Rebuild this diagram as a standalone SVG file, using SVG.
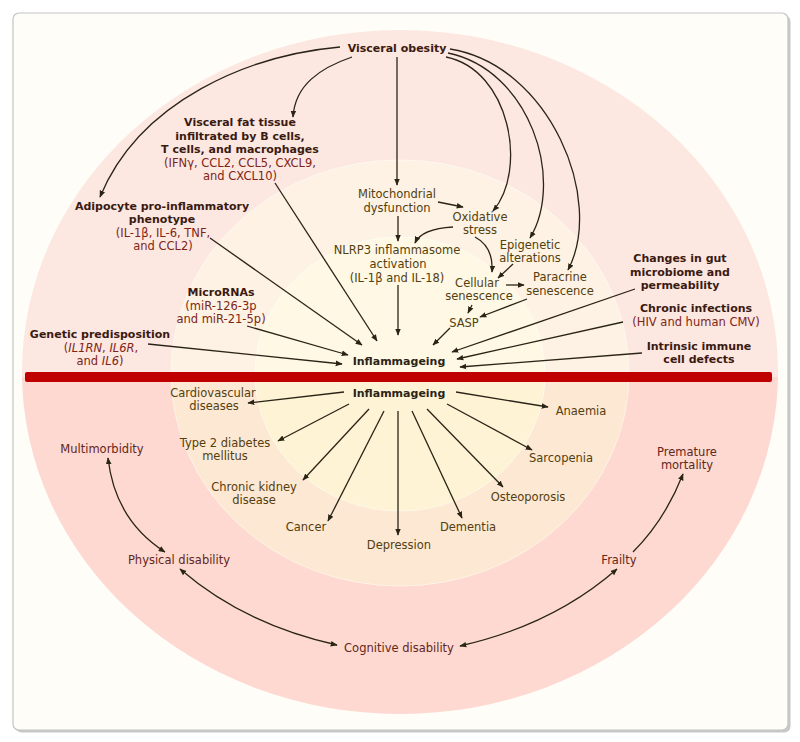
<svg xmlns="http://www.w3.org/2000/svg" width="800" height="742" viewBox="0 0 800 742">
<defs>
<clipPath id="top"><rect x="0" y="0" width="800" height="377"/></clipPath>
<clipPath id="bot"><rect x="0" y="377" width="800" height="365"/></clipPath>
<marker id="ah" viewBox="0 0 10 10" refX="9" refY="5" markerWidth="7" markerHeight="7" markerUnits="userSpaceOnUse" orient="auto-start-reverse"><path d="M0,1 L10,5 L0,9 z" fill="#2a2416"/></marker>
<style>
text{font-family:"DejaVu Sans","Liberation Sans",sans-serif;font-size:11.5px;text-anchor:middle}
.b{font-weight:bold;font-size:11px;fill:#3a1a10}
.p{fill:#7e2616}
.o{fill:#54400e}
.r{fill:#64261a}
.k{font-weight:bold;font-size:11px;fill:#2a2416}
.ln{fill:none;stroke:#2a2416;stroke-width:1.3;marker-end:url(#ah)}
.bi{marker-start:url(#ah)}
</style>
</defs>
<rect width="800" height="742" fill="#ffffff"/>
<rect x="15.5" y="15.5" width="775" height="717" rx="6" fill="#c8c8c8"/>
<rect x="13" y="13" width="775" height="717" rx="6" fill="#fffdf8" stroke="#c4c4c4" stroke-width="1.2"/>
<g id="rings">
<g clip-path="url(#top)">
<ellipse cx="400" cy="372" rx="378" ry="342" fill="#fce7e1"/>
<ellipse cx="400" cy="373" rx="229" ry="213" fill="#fdf2e3" stroke="#fff8f0" stroke-width="1"/>
<ellipse cx="400" cy="374" rx="145" ry="137" fill="#fef8e5" stroke="#fffcf2" stroke-width="1"/>
</g>
<g clip-path="url(#bot)">
<ellipse cx="400" cy="372" rx="378" ry="342" fill="#fdd9d1"/>
<ellipse cx="400" cy="373" rx="229" ry="213" fill="#fde8d3" stroke="#fff3e6" stroke-width="1"/>
<ellipse cx="400" cy="374" rx="145" ry="137" fill="#fef3d5" stroke="#fff9ea" stroke-width="1"/>
</g>
</g>
<rect id="bar" x="25" y="372" width="747" height="10" rx="2" fill="#c00000"/>
<g id="connectors">
<path class="ln" d="M340,47 C250,55 140,100 100,197"/>
<path class="ln" d="M352,57 C320,68 295,85 293,117"/>
<path class="ln" d="M397,57 L397,185"/>
<path class="ln" d="M446,57 C510,70 528,170 493,211"/>
<path class="ln" d="M448,53 C530,70 565,180 530,238"/>
<path class="ln" d="M450,49 C550,65 605,200 568,270"/>
<path class="ln" d="M438,202 L463,207"/>
<path class="ln" d="M398,216 L398,241"/>
<path class="ln" d="M453,227 C435,228 420,232 415,243"/>
<path class="ln" d="M475,237 C490,245 493,258 492,272"/>
<path class="ln" d="M513,264 L498,278"/>
<path class="ln" d="M506,285 L524,285"/>
<path class="ln" d="M527,299 L480,317"/>
<path class="ln" d="M472,305 L468,313"/>
<path class="ln" d="M450,328 L433,345"/>
<path class="ln" d="M398,285 L398,335"/>
<path class="ln" d="M275,183 L377,341"/>
<path class="ln" d="M210,238 L362,345"/>
<path class="ln" d="M247,326 L348,355"/>
<path class="ln" d="M148,344 L342,364"/>
<path class="ln" d="M635,289 L452,352"/>
<path class="ln" d="M623,322 L457,359"/>
<path class="ln" d="M642,353 L460,367"/>
<path class="ln" d="M344,392 L248,403"/>
<path class="ln" d="M349,404 L278,441"/>
<path class="ln" d="M369,409 L303,480"/>
<path class="ln" d="M384,411 L328,521"/>
<path class="ln" d="M398,411 L398,535"/>
<path class="ln" d="M412,411 L462,518"/>
<path class="ln" d="M427,409 L503,487"/>
<path class="ln" d="M447,404 L532,450"/>
<path class="ln" d="M456,392 L548,407"/>
<path class="ln bi" d="M108,458 Q115,520 165,552"/>
<path class="ln bi" d="M180,569 Q245,625 337,645"/>
<path class="ln bi" d="M460,646 Q553,625 617,569"/>
<path class="ln" d="M633,552 Q665,520 683,474"/>
</g>
<g id="n-visceral-obesity"><text class="b" x="397" y="52">Visceral obesity</text></g>
<g id="n-fat-tissue">
<text class="b" x="240" y="126">Visceral fat tissue</text>
<text class="b" x="240" y="140">infiltrated by B cells,</text>
<text class="b" x="240" y="153">T cells, and macrophages</text>
<text class="p" x="240" y="167">(IFNγ, CCL2, CCL5, CXCL9,</text>
<text class="p" x="240" y="180">and CXCL10)</text>
</g>
<g id="n-adipocyte">
<text class="b" x="162" y="210">Adipocyte pro-inflammatory</text>
<text class="b" x="162" y="223">phenotype</text>
<text class="p" x="163" y="237">(IL-1β, IL-6, TNF,</text>
<text class="p" x="163" y="250">and CCL2)</text>
</g>
<g id="n-micrornas">
<text class="b" x="221" y="296">MicroRNAs</text>
<text class="p" x="221" y="310">(miR-126-3p</text>
<text class="p" x="221" y="323">and miR-21-5p)</text>
</g>
<g id="n-genetic">
<text class="b" x="100" y="338">Genetic predisposition</text>
<text class="p" x="101" y="352">(<tspan font-style="italic">IL1RN</tspan>, <tspan font-style="italic">IL6R</tspan>,</text>
<text class="p" x="100" y="365">and <tspan font-style="italic">IL6</tspan>)</text>
</g>
<g id="n-gut">
<text class="b" x="680" y="262">Changes in gut</text>
<text class="b" x="680" y="276">microbiome and</text>
<text class="b" x="680" y="289">permeability</text>
</g>
<g id="n-infections">
<text class="b" x="696" y="312">Chronic infections</text>
<text class="p" x="696" y="326">(HIV and human CMV)</text>
</g>
<g id="n-immune">
<text class="b" x="699" y="350">Intrinsic immune</text>
<text class="b" x="699" y="363">cell defects</text>
</g>
<g id="n-mito"><text class="o" x="397" y="198">Mitochondrial</text><text class="o" x="397" y="212">dysfunction</text></g>
<g id="n-oxidative"><text class="o" x="480" y="221">Oxidative</text><text class="o" x="480" y="234">stress</text></g>
<g id="n-nlrp3"><text class="o" x="397" y="254">NLRP3 inflammasome</text><text class="o" x="398" y="268">activation</text><text class="o" x="397" y="282">(IL-1β and IL-18)</text></g>
<g id="n-epigenetic"><text class="o" x="530" y="249">Epigenetic</text><text class="o" x="530" y="262">alterations</text></g>
<g id="n-cellular"><text class="o" x="477" y="287">Cellular</text><text class="o" x="479" y="300">senescence</text></g>
<g id="n-paracrine"><text class="o" x="560" y="281">Paracrine</text><text class="o" x="560" y="295">senescence</text></g>
<g id="n-sasp"><text class="o" x="464" y="327">SASP</text></g>
<g id="n-inflammageing-top"><text class="k" x="399" y="365">Inflammageing</text></g>
<g id="n-inflammageing-bottom"><text class="k" x="399" y="397">Inflammageing</text></g>
<g id="n-cardio"><text class="o" x="213" y="397">Cardiovascular</text><text class="o" x="214" y="410">diseases</text></g>
<g id="n-t2d"><text class="o" x="225" y="447">Type 2 diabetes</text><text class="o" x="225" y="460">mellitus</text></g>
<g id="n-ckd"><text class="o" x="254" y="491">Chronic kidney</text><text class="o" x="254" y="504">disease</text></g>
<g id="n-cancer"><text class="o" x="306" y="531">Cancer</text></g>
<g id="n-depression"><text class="o" x="399" y="549">Depression</text></g>
<g id="n-dementia"><text class="o" x="468" y="531">Dementia</text></g>
<g id="n-osteo"><text class="o" x="528" y="501">Osteoporosis</text></g>
<g id="n-sarco"><text class="o" x="561" y="462">Sarcopenia</text></g>
<g id="n-anaemia"><text class="o" x="581" y="415">Anaemia</text></g>
<g id="n-multi"><text class="r" x="102" y="453">Multimorbidity</text></g>
<g id="n-physical"><text class="r" x="179" y="564">Physical disability</text></g>
<g id="n-cognitive"><text class="r" x="399" y="652">Cognitive disability</text></g>
<g id="n-frailty"><text class="r" x="619" y="564">Frailty</text></g>
<g id="n-mortality"><text class="r" x="687" y="456">Premature</text><text class="r" x="687" y="469">mortality</text></g>
</svg>
